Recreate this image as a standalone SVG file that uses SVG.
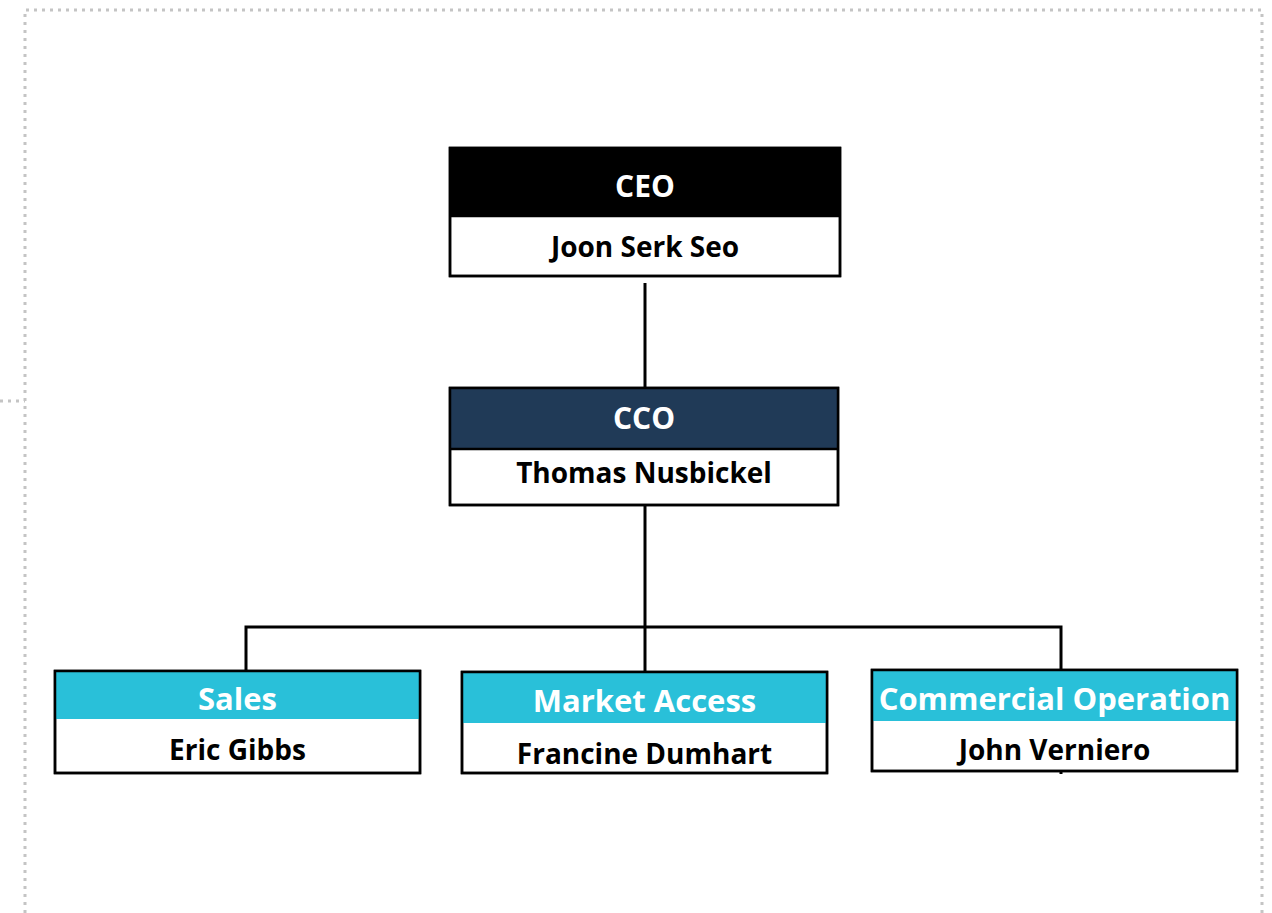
<svg xmlns="http://www.w3.org/2000/svg" width="1272" height="913" viewBox="0 0 1272 913">
  <style>
    .frame { fill: none; stroke: #c4c4c4; stroke-width: 3; stroke-dasharray: 3 5; }
    .box { fill: #ffffff; stroke: #000000; stroke-width: 2.5; }
    .hdr-ceo { fill: #000000; }
    .hdr-cco { fill: #203a57; }
    .hdr-dept { fill: #29c0d9; }
    .outline { fill: none; stroke: #000000; stroke-width: 2.5; }
    .title { font-family: "Open Sans", "Liberation Sans", sans-serif; font-weight: bold; fill: #ffffff; text-anchor: middle; font-size: 30px; }
    .dept { font-size: 31px; }
    .name { font-family: "Open Sans", "Liberation Sans", sans-serif; font-weight: bold; fill: #000000; text-anchor: middle; font-size: 28px; }
    .conn { fill: none; stroke: #000000; stroke-width: 3; }
  </style>
  <rect width="1272" height="913" fill="#ffffff"/>
  <g id="frame">
    <path class="frame" d="M25 913 V10 H1262 V913"/>
    <path class="frame" d="M0 401 H25"/>
  </g>
  <g id="connectors">
    <path class="conn" d="M645 283 V388"/>
    <path class="conn" d="M645 505 V672"/>
    <path class="conn" d="M246 673 V627 H1061 V670"/>
    <path class="conn" d="M1061 770 V774"/>
  </g>
  <g id="ceo">
    <rect class="box" x="450" y="148" width="390" height="128"/>
    <rect class="hdr-ceo" x="450" y="148" width="390" height="68"/>
    <path class="outline" d="M450 216 H840"/>
    <rect class="outline" x="450" y="148" width="390" height="128"/>
    <text class="title" x="645" y="197">CEO</text>
    <text class="name" x="645" y="257">Joon Serk Seo</text>
  </g>
  <g id="cco">
    <rect class="box" x="450" y="388" width="388" height="117"/>
    <rect class="hdr-cco" x="450" y="388" width="388" height="61"/>
    <path class="outline" d="M450 449 H838"/>
    <rect class="outline" x="450" y="388" width="388" height="117"/>
    <text class="title" x="644" y="429">CCO</text>
    <text class="name" x="644" y="483">Thomas Nusbickel</text>
  </g>
  <g id="sales">
    <rect class="box" x="55" y="671" width="365" height="102"/>
    <rect class="hdr-dept" x="55" y="671" width="365" height="48"/>
    <rect class="outline" x="55" y="671" width="365" height="102"/>
    <text class="title dept" x="237.5" y="710">Sales</text>
    <text class="name" x="237.5" y="760">Eric Gibbs</text>
  </g>
  <g id="market-access">
    <rect class="box" x="462" y="672" width="365" height="101"/>
    <rect class="hdr-dept" x="462" y="672" width="365" height="51"/>
    <rect class="outline" x="462" y="672" width="365" height="101"/>
    <text class="title dept" x="644.5" y="712">Market Access</text>
    <text class="name" x="644.5" y="764">Francine Dumhart</text>
  </g>
  <g id="commercial-operation">
    <rect class="box" x="872" y="670" width="365" height="101"/>
    <rect class="hdr-dept" x="872" y="670" width="365" height="51"/>
    <rect class="outline" x="872" y="670" width="365" height="101"/>
    <text class="title dept" x="1054.5" y="710">Commercial Operation</text>
    <text class="name" x="1054.5" y="760">John Verniero</text>
  </g>
</svg>
